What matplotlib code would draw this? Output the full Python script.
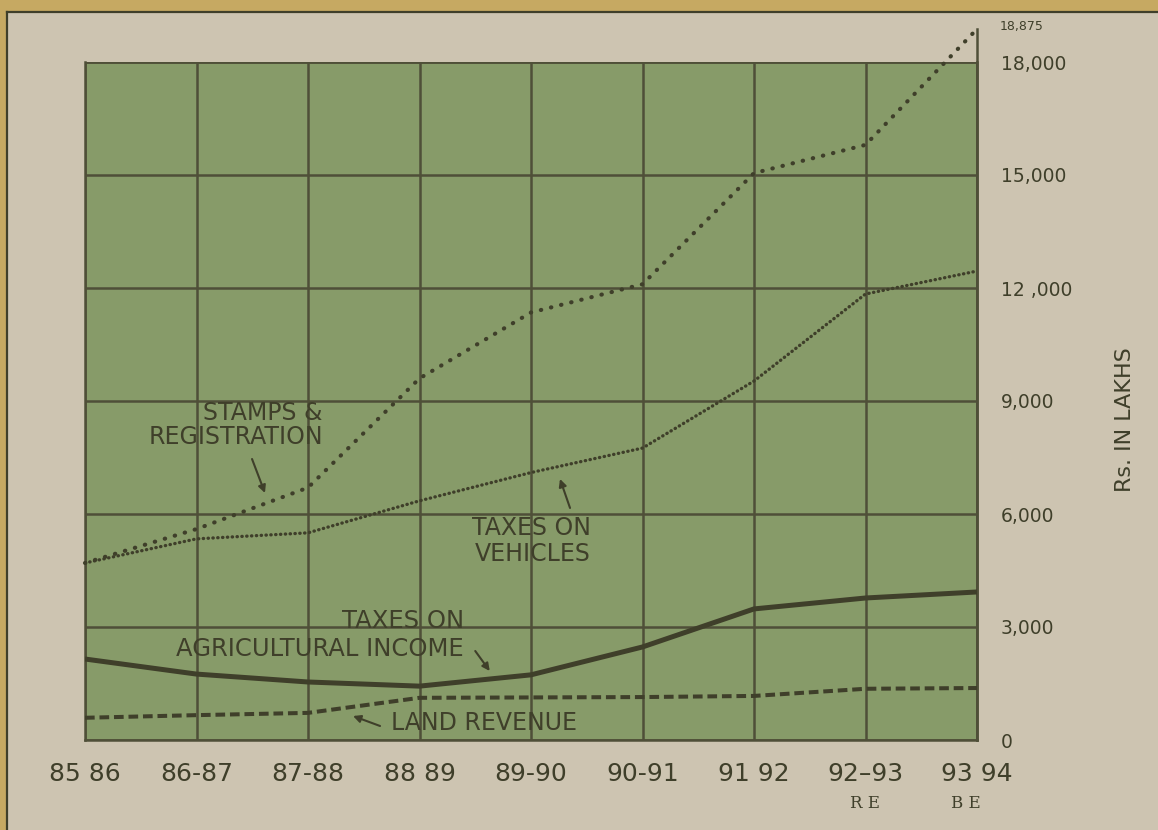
import matplotlib
matplotlib.use("Agg")
import matplotlib.pyplot as plt
from matplotlib.patches import Rectangle
from matplotlib.lines import Line2D

# values (Rs. in lakhs)
years = ["85 86", "86-87", "87-88", "88 89", "89-90", "90-91", "91 92", "92–93", "93 94"]
stamps = [4700, 5600, 6700, 9600, 11350, 12100, 15050, 15800, 18875]
vehicles = [4700, 5340, 5500, 6350, 7100, 7750, 9530, 11840, 12450]
agri_income = [2150, 1750, 1540, 1430, 1730, 2470, 3480, 3770, 3930]
land_revenue = [590, 660, 720, 1120, 1130, 1140, 1170, 1360, 1380]
y_ticks = [0, 3000, 6000, 9000, 12000, 15000, 18000]
y_labels = ["0", "3,000", "6,000", "9,000", "12 ,000", "15,000", "18,000"]

beige = "#cdc4b1"
yellow = "#c6a962"
green = "#879b69"
ink = "#3f3f2a"
grid_c = "#4f4f38"

W, H = 1158, 830
fig = plt.figure(figsize=(W / 100, H / 100), dpi=100, facecolor=beige)

# scanned page frame: yellow band with a dark rule
fig.add_artist(Rectangle((0, 1 - 11 / H), 1, 11 / H, transform=fig.transFigure,
                         facecolor=yellow, edgecolor="none"))
fig.add_artist(Rectangle((0, 0), 6 / W, 1, transform=fig.transFigure,
                         facecolor=yellow, edgecolor="none"))
fig.add_artist(Line2D([7 / W, 1], [1 - 12.5 / H, 1 - 12.5 / H], transform=fig.transFigure,
                      color=ink, lw=1.6))
fig.add_artist(Line2D([7 / W, 7 / W], [0, 1 - 12.5 / H], transform=fig.transFigure,
                      color=ink, lw=1.6))

ax = fig.add_axes([85 / W, 1 - 740 / H, (977 - 85) / W, (740 - 62) / H])
ax.set_facecolor(green)
x = list(range(len(years)))

ax.plot(x, stamps, color=ink, lw=3.0, linestyle=(0, (0.1, 2.4)),
        dash_capstyle="round", clip_on=False, zorder=4)
ax.plot(x, vehicles, color=ink, lw=2.4, linestyle=(0, (0.1, 1.35)),
        dash_capstyle="round", zorder=4)
ax.plot(x, agri_income, color=ink, lw=3.6, solid_capstyle="butt", zorder=4)
ax.plot(x, land_revenue, color=ink, lw=2.9, linestyle=(0, (2.4, 1.2)), zorder=4)

ax.set_xlim(0, len(years) - 1)
ax.set_ylim(0, 18000)
ax.set_xticks(x)
ax.set_xticklabels(years, fontsize=18, color=ink)
ax.set_yticks(y_ticks)
ax.set_yticklabels(y_labels, fontsize=13.5, color=ink)
ax.yaxis.tick_right()
ax.tick_params(axis="both", length=0)
ax.tick_params(axis="y", pad=17)
ax.tick_params(axis="x", pad=16)
ax.grid(True, color=grid_c, lw=1.8)
ax.set_axisbelow(True)
for s in ax.spines.values():
    s.set_color(grid_c)
    s.set_linewidth(1.8)
ax.spines["top"].set_visible(False)
# right axis runs up to the peak value
ax.plot([len(years) - 1, len(years) - 1], [0, stamps[-1]], color=grid_c, lw=1.8,
        clip_on=False, zorder=3)
ax.plot([0, len(years) - 1], [18000, 18000], color=grid_c, lw=1.8, zorder=3)

ax.annotate("18,875", xy=(len(years) - 1, stamps[-1]), xytext=(16, 2),
            textcoords="offset points", fontsize=9, color=ink, ha="left", va="center",
            annotation_clip=False)

# revised / budget estimate marks
xt = ax.get_xaxis_transform()
ax.text(7, -0.093, "R E", transform=xt, fontsize=12, color=ink, ha="center", va="center",
        family="DejaVu Serif")
ax.text(7.9, -0.093, "B E", transform=xt, fontsize=12, color=ink, ha="center", va="center",
        family="DejaVu Serif")

fig.text(1125 / W, 1 - 420 / H, "Rs. IN LAKHS", rotation=90, fontsize=16, color=ink,
         ha="center", va="center")

# series labels with pointer arrows
arrow = dict(arrowstyle="-|>", color=ink, lw=1.5, mutation_scale=11, shrinkA=0, shrinkB=0)
ax.text(2.134, 8350, "STAMPS &\nREGISTRATION", fontsize=17, color=ink,
        ha="right", va="center", multialignment="right", linespacing=1.0, zorder=5)
ax.annotate("", xy=(1.614, 6558), xytext=(1.498, 7460), arrowprops=arrow, zorder=5)

ax.text(4.538, 5280, "TAXES ON\nVEHICLES", fontsize=17, color=ink,
        ha="right", va="center", multialignment="right", linespacing=1.1, zorder=5)
ax.annotate("", xy=(4.26, 6930), xytext=(4.35, 6160), arrowprops=arrow, zorder=5)

ax.text(3.40, 2790, "TAXES ON\nAGRICULTURAL INCOME", fontsize=17.5, color=ink,
        ha="right", va="center", multialignment="right", linespacing=1.25, zorder=5)
ax.annotate("", xy=(3.63, 1832), xytext=(3.50, 2363), arrowprops=arrow, zorder=5)

ax.text(2.744, 450, "LAND REVENUE", fontsize=17, color=ink, ha="left", va="center",
        zorder=5)
ax.annotate("", xy=(2.404, 637), xytext=(2.646, 372), arrowprops=arrow, zorder=5)

fig.savefig("out.png", dpi=100, facecolor=beige)
